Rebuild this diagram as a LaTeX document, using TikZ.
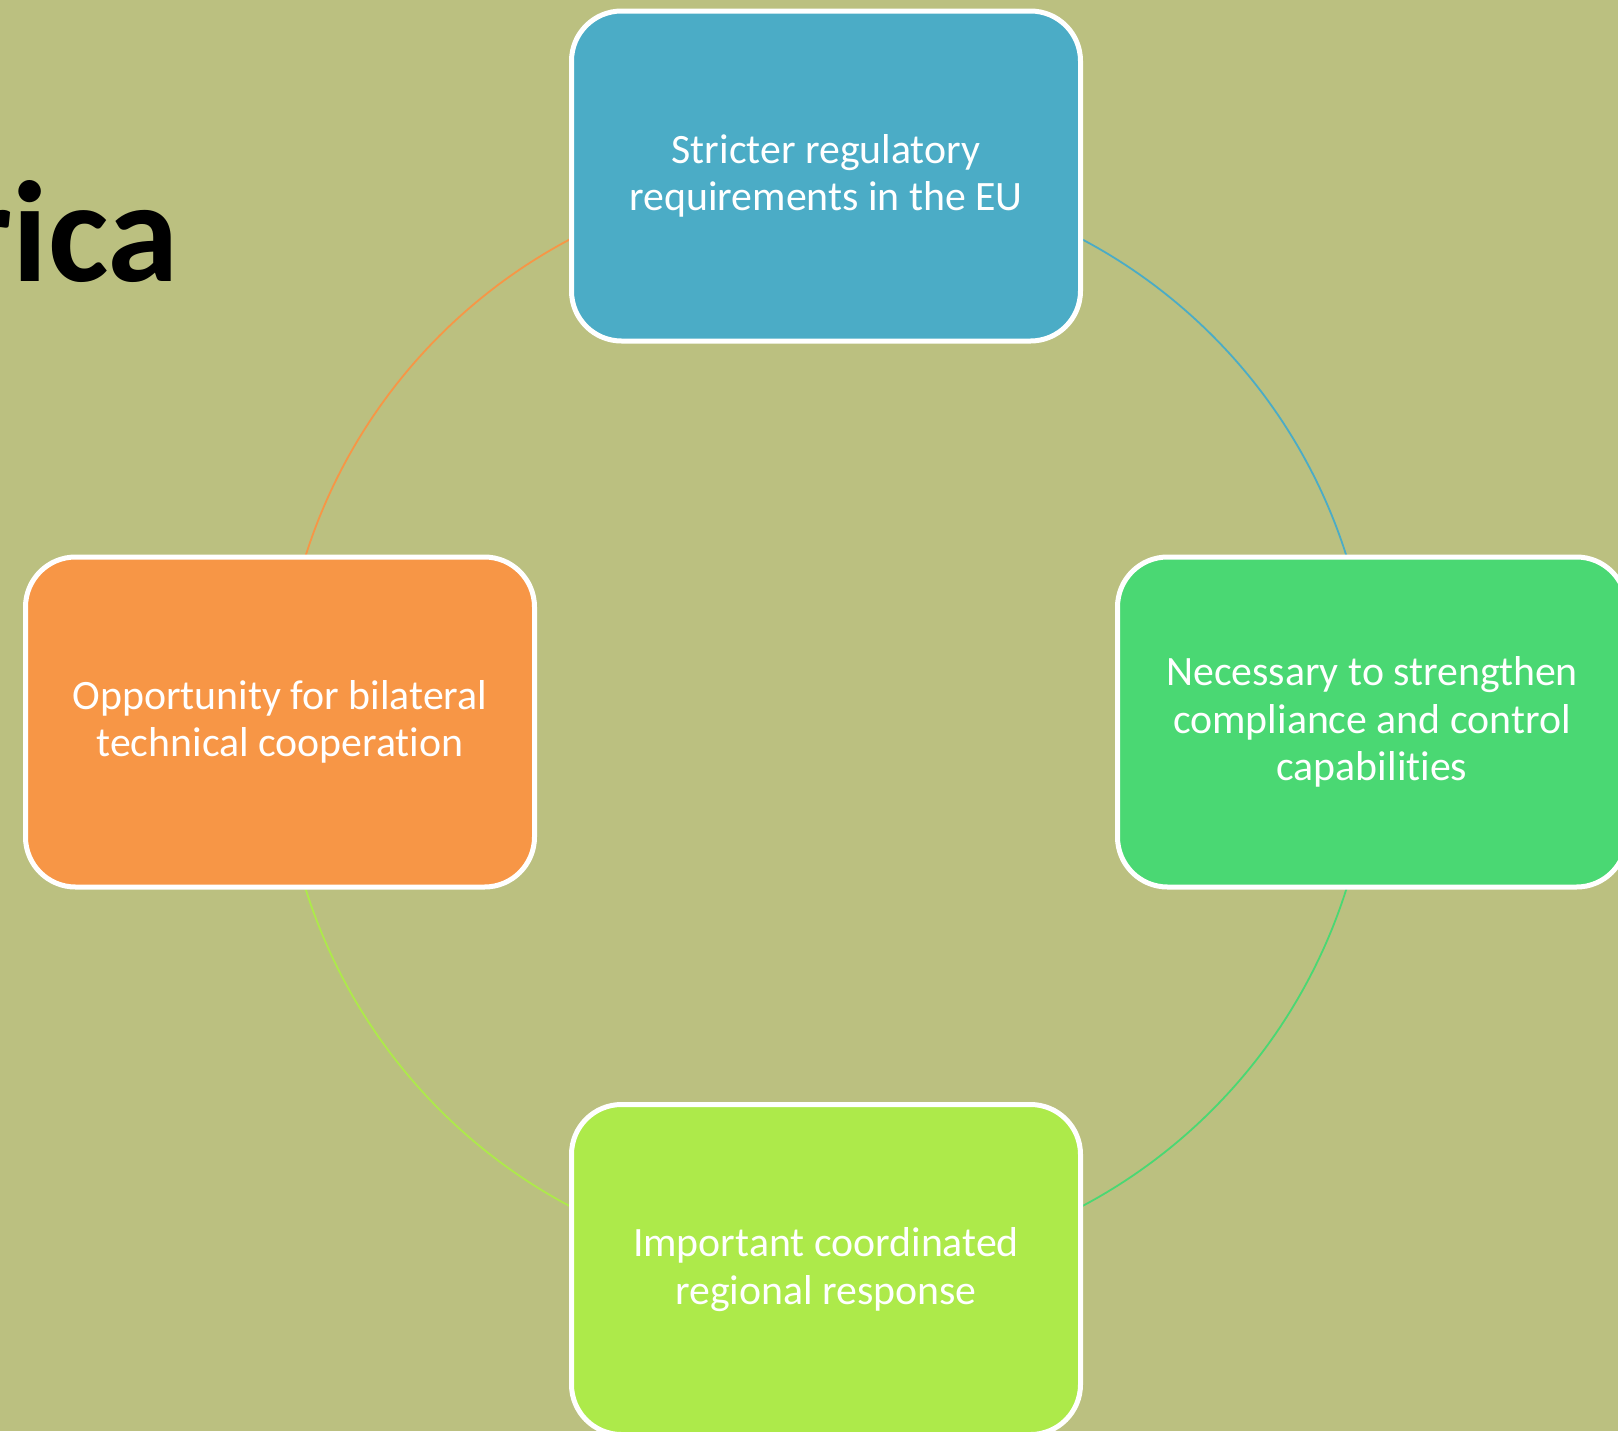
\documentclass[tikz,border=0pt]{standalone}
\usepackage{fontspec}
\setmainfont{Carlito}[RawFeature={-liga}]
\definecolor{bgc}{HTML}{BBC080}
\definecolor{cblue}{HTML}{4BACC6}
\definecolor{cgreen}{HTML}{4AD873}
\definecolor{clime}{HTML}{ADEA4A}
\definecolor{corange}{HTML}{F79646}
\pgfdeclarelayer{bglayer}
\pgfdeclarelayer{arcs}
\pgfsetlayers{bglayer,arcs,main}
\tikzset{
  cardbox/.style={draw=white, line width=2.5pt, rounded corners=25pt,
    minimum width=254.5pt, minimum height=165pt, align=center,
    text=white, font=\fontsize{20.9}{23.6}\selectfont, inner sep=0pt},
  ring/.style={line width=0.9pt}
}
\begin{document}
\begin{tikzpicture}[x=0.5pt,y=-0.5pt]
\begin{pgfonlayer}{bglayer}
\fill[bgc] (0,0) rectangle (1618,1431);
\end{pgfonlayer}
\useasboundingbox (0,0) rectangle (1618,1431);
\node[anchor=base east, font=\fontsize{72}{86}\selectfont\bfseries, inner sep=0pt] (title) at (179,281) {rica};
\node[cardbox, fill=cblue] (top) at (826,176) {Stricter regulatory\\requirements in the EU};
\node[cardbox, fill=cgreen] (right) at (1372,722) {Necessary to strengthen\\compliance and control\\capabilities};
\node[cardbox, fill=clime] (bottom) at (826,1269.5) {Important coordinated\\regional response};
\node[cardbox, fill=corange] (left) at (280,722) {Opportunity for bilateral\\technical cooperation};
\begin{pgfonlayer}{arcs}
\draw[ring, cblue] (top.center) to[out=0,in=90] (right.center);
\draw[ring, cgreen] (right.center) to[out=-90,in=0] (bottom.center);
\draw[ring, clime] (bottom.center) to[out=180,in=-90] (left.center);
\draw[ring, corange] (left.center) to[out=90,in=180] (top.center);
\end{pgfonlayer}
\end{tikzpicture}
\end{document}
